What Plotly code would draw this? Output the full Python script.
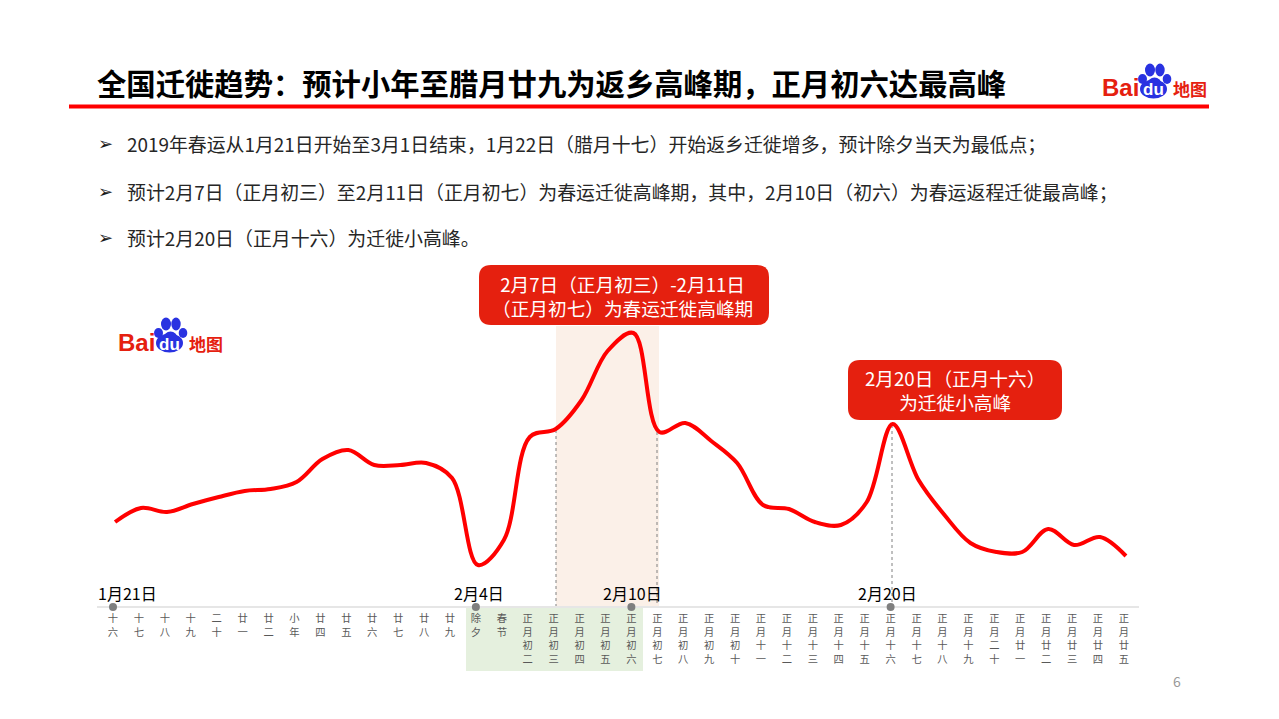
import plotly.graph_objects as go

W = 1279
H = 719
FONT = "Noto Sans CJK SC"
RED = "#e5200f"
BLUE = "#2932e1"

# lunar day labels under the axis, one per day from 1月21日
lunar_days = [
    "十六", "十七", "十八", "十九", "二十", "廿一", "廿二", "小年", "廿四", "廿五",
    "廿六", "廿七", "廿八", "廿九", "除夕", "春节", "正月初二", "正月初三", "正月初四", "正月初五",
    "正月初六", "正月初七", "正月初八", "正月初九", "正月初十", "正月十一", "正月十二", "正月十三", "正月十四", "正月十五",
    "正月十六", "正月十七", "正月十八", "正月十九", "正月二十", "正月廿一", "正月廿二", "正月廿三", "正月廿四", "正月廿五",
]
# migration index
migration = [
    85, 99, 95, 103, 110, 116, 118, 125, 148, 157,
    142, 142, 144, 129, 42, 67, 170, 178, 207, 256,
    274, 175, 184, 166, 144, 102, 98, 85, 82, 105,
    183, 127, 92, 64, 55, 55, 78, 62, 70, 51,
]
date_idx = [0, 14, 20, 30]
date_labels = ["1月21日", "2月4日", "2月10日", "2月20日"]
date_shift = [14, 3, 1, -3]
bullets = [
    "2019年春运从1月21日开始至3月1日结束，1月22日（腊月十七）开始返乡迁徙增多，预计除夕当天为最低点；",
    "预计2月7日（正月初三）至2月11日（正月初七）为春运迁徙高峰期，其中，2月10日（初六）为春运返程迁徙最高峰；",
    "预计2月20日（正月十六）为迁徙小高峰。",
]
title = "全国迁徙趋势：预计小年至腊月廿九为返乡高峰期，正月初六达最高峰"

days = list(range(len(lunar_days)))
step = 25.92
x0_px = 113
axis_y_px = 607


def px(x):
    return x / W


def py(y):
    return 1 - y / H


def rrect(x0, y0, x1, y1, r):
    a, b, c, d = px(x0), py(y0), px(x1), py(y1)
    rx, ry = r / W, r / H
    return (f"M {a+rx} {b} L {c-rx} {b} Q {c} {b} {c} {b-ry} L {c} {d+ry} Q {c} {d} {c-rx} {d} "
            f"L {a+rx} {d} Q {a} {d} {a} {d+ry} L {a} {b-ry} Q {a} {b} {a+rx} {b} Z")


shapes = []
annotations = []


def rect(x0, y0, x1, y1, color, layer="below"):
    shapes.append(dict(type="rect", xref="paper", yref="paper", x0=px(x0), x1=px(x1), y0=py(y0), y1=py(y1),
                       fillcolor=color, line_width=0, layer=layer))


def ell(cx, cy, rx, ry, color):
    shapes.append(dict(type="circle", xref="paper", yref="paper", x0=px(cx - rx), x1=px(cx + rx),
                       y0=py(cy + ry), y1=py(cy - ry), fillcolor=color, line_width=0, layer="above"))


def text(x, y, s, size, color="#000000", anchor="left", font=FONT):
    if anchor == "left":
        x = x - 2
    annotations.append(dict(xref="paper", yref="paper", x=px(x), y=py(y - 1), text=s, showarrow=False,
                            xanchor=anchor, yanchor="middle", align="center",
                            font=dict(family=font, size=size, color=color)))


def logo(dx, dy):
    text(1102 + dx, 89 + dy, "<b>Bai</b>", 24, RED, font="Liberation Sans")
    text(1173 + dx, 90 + dy, "<b>地图</b>", 17, RED)
    ell(1150 + dx, 70 + dy, 5, 6.5, BLUE)
    ell(1160 + dx, 70 + dy, 4.7, 6.5, BLUE)
    ell(1142.5 + dx, 79 + dy, 4.5, 5, BLUE)
    ell(1167 + dx, 79 + dy, 4.3, 5, BLUE)
    ell(1153.5 + dx, 89 + dy, 13.5, 9.5, BLUE)
    ell(1154.5 + dx, 84 + dy, 7, 6.5, BLUE)
    text(1153.5 + dx, 91 + dy, "<b>du</b>", 17, "#ffffff", anchor="center", font="Liberation Sans")


# header
text(97, 83, f"<b>{title}</b>", 29.33)
rect(69, 104.5, 1209, 108.5, "#ff0000")
logo(0, 0)
logo(-984, 254)

# bullet text
for s, y in zip(bullets, [144, 192, 238]):
    text(98, y, "➢", 18, "#1a1a1a", font="DejaVu Sans")
    text(127, y, s, 18.9, "#262626")

# bands behind the curve
rect(556, 326, 659, axis_y_px, "#fbf0e8")
rect(466, axis_y_px, 643, 671, "#e5f0de")

# dotted drops from the curve to the axis
for x, y in [(556, 430), (657, 432), (892, 425)]:
    shapes.append(dict(type="line", xref="paper", yref="paper", x0=px(x), x1=px(x), y0=py(y), y1=py(axis_y_px),
                       line=dict(color="#808080", width=1, dash="dot"), layer="below"))

# callouts
for box in [(479, 265, 769, 325), (848, 360, 1062, 420)]:
    shapes.append(dict(type="path", xref="paper", yref="paper", path=rrect(*box, 12),
                       fillcolor=RED, line_width=0, layer="above"))
text(622, 296, "2月7日（正月初三）-2月11日<br>（正月初七）为春运迁徙高峰期", 18.67, "#ffffff", anchor="center")
text(955, 391, "2月20日（正月十六）<br>为迁徙小高峰", 18.67, "#ffffff", anchor="center")

text(1177, 682, "6", 14, "#999999", anchor="center")

fig = go.Figure()
# the drawn curve sits a touch right of the day ticks
fig.add_trace(go.Scatter(x=[d + 0.08 for d in days], y=migration, mode="lines",
                         line=dict(color="#ff0000", width=4, shape="spline", smoothing=1.0),
                         hoverinfo="skip"))
fig.add_trace(go.Scatter(x=date_idx, y=[0] * len(date_idx), mode="markers",
                         marker=dict(color="#7f7f7f", size=8), cliponaxis=False, hoverinfo="skip"))

for i, s, sh in zip(date_idx, date_labels, date_shift):
    annotations.append(dict(x=i, y=14, xref="x", yref="y", text=s, showarrow=False, xshift=sh,
                            font=dict(family=FONT, size=16, color="#000000")))

fig.update_layout(
    width=W, height=H, showlegend=False,
    margin=dict(l=0, r=0, t=0, b=0),
    paper_bgcolor="#ffffff", plot_bgcolor="rgba(0,0,0,0)",
    shapes=shapes, annotations=annotations,
    xaxis=dict(
        domain=[97 / W, 1139 / W],
        range=[(97 - x0_px) / step, (1139 - x0_px) / step],
        anchor="free", position=py(axis_y_px),
        tickmode="array", tickvals=days,
        ticktext=["<br>".join(s) for s in lunar_days],
        tickangle=0, ticklabelstandoff=2,
        tickfont=dict(family=FONT, size=10.3, color="#595959"),
        showgrid=False, zeroline=False, ticks="",
        showline=True, linecolor="#e6e6e6", linewidth=2,
        layer="below traces",
    ),
    yaxis=dict(domain=[0, 1], range=[axis_y_px - H, axis_y_px], visible=False),
)

fig.write_html("out.html", config=dict(displayModeBar=False), post_script="document.body.style.margin='0';")
